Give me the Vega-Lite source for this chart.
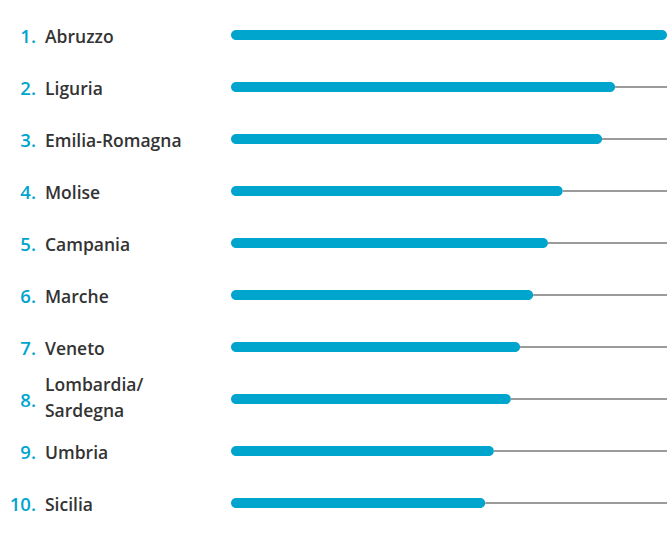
{
  "$schema": "https://vega.github.io/schema/vega-lite/v6.json",
  "autosize": {"type": "none"},
  "padding": {"left": 231, "top": 9, "right": 0, "bottom": 6},
  "width": 436,
  "height": 520,
  "background": "white",
  "config": {"view": {"stroke": null}},
  "data": {"values": [
    {"rank": 1, "rankLabel": "1.", "region": "Abruzzo", "value": 100},
    {"rank": 2, "rankLabel": "2.", "region": "Liguria", "value": 88.1},
    {"rank": 3, "rankLabel": "3.", "region": "Emilia-Romagna", "value": 85.1},
    {"rank": 4, "rankLabel": "4.", "region": "Molise", "value": 76.1},
    {"rank": 5, "rankLabel": "5.", "region": "Campania", "value": 72.7},
    {"rank": 6, "rankLabel": "6.", "region": "Marche", "value": 69.3},
    {"rank": 7, "rankLabel": "7.", "region": "Veneto", "value": 66.3},
    {"rank": 8, "rankLabel": "8.", "region": "Lombardia/\nSardegna", "value": 64.2},
    {"rank": 9, "rankLabel": "9.", "region": "Umbria", "value": 60.3},
    {"rank": 10, "rankLabel": "10.", "region": "Sicilia", "value": 58.3}
  ]},
  "encoding": {
    "y": {"field": "rank", "type": "ordinal", "scale": {"paddingInner": 0, "paddingOuter": 0}, "axis": null}
  },
  "layer": [
    {
      "mark": {"type": "rule", "color": "#7a7a7a", "strokeWidth": 1.5},
      "encoding": {
        "x": {"field": "value", "type": "quantitative", "scale": {"domain": [0, 100], "nice": false, "zero": true}, "axis": null},
        "x2": {"datum": 100}
      }
    },
    {
      "mark": {"type": "bar", "color": "#00a5ce", "size": 10, "cornerRadius": 5},
      "encoding": {
        "x": {"field": "value", "type": "quantitative"}
      }
    },
    {
      "mark": {"type": "text", "align": "right", "baseline": "middle", "dx": -195, "dy": 2, "fontSize": 18.5, "font": "Open Sans", "fontWeight": 600, "color": "#00a5ce"},
      "encoding": {
        "x": {"datum": 0},
        "text": {"field": "rankLabel"}
      }
    },
    {
      "transform": [{"filter": "datum.rank != 8"}],
      "mark": {"type": "text", "align": "left", "baseline": "middle", "dx": -186, "dy": 3, "fontSize": 17.5, "font": "Open Sans", "fontWeight": 600, "color": "#333333"},
      "encoding": {
        "x": {"datum": 0},
        "text": {"field": "region"}
      }
    },
    {
      "transform": [{"filter": "datum.rank == 8"}],
      "mark": {"type": "text", "align": "left", "baseline": "middle", "dx": -186, "dy": -13, "fontSize": 17.5, "font": "Open Sans", "fontWeight": 600, "color": "#333333", "lineBreak": "\n", "lineHeight": 26},
      "encoding": {
        "x": {"datum": 0},
        "text": {"field": "region"}
      }
    }
  ]
}
